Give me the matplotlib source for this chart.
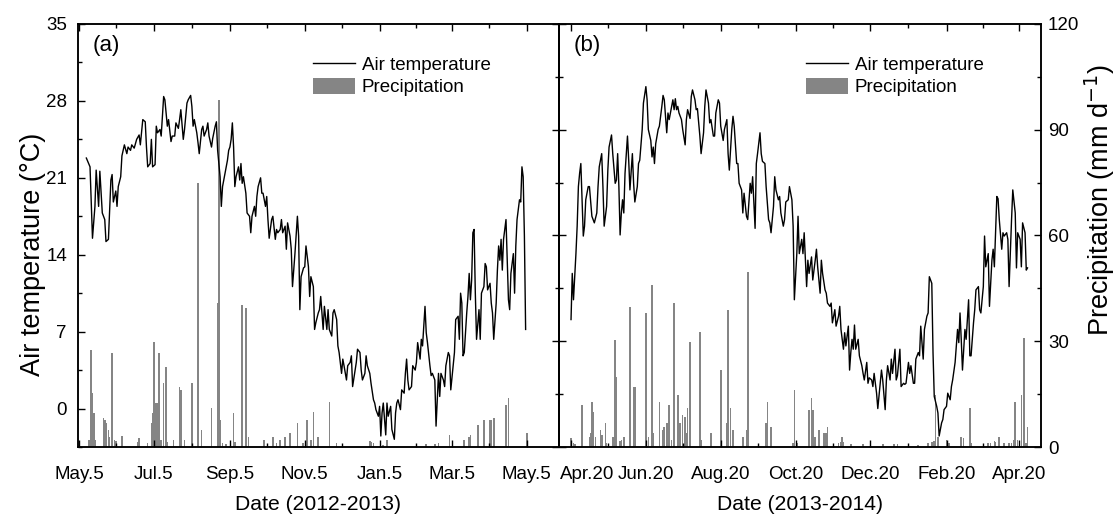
import numpy as np
import matplotlib.pyplot as plt
from matplotlib.lines import Line2D
from matplotlib.patches import Patch
from matplotlib.ticker import FixedLocator, MultipleLocator, NullFormatter
import matplotlib.transforms as mtransforms

plt.rcParams['font.family'] = ['Liberation Sans', 'DejaVu Sans']
plt.rcParams['font.size'] = 13.5

# ---- panel (a): 2012-2013, day 0 = 2012-05-05 ----
start_a = np.datetime64('2012-05-05')
temp_days_a = [6, 9, 11, 13, 14, 16, 17, 19, 21, 22, 24, 26, 27, 28, 30, 31, 32, 34, 35, 37,
               39, 40, 42, 43, 45, 47, 49, 50, 52, 54, 55, 56, 58, 59, 60, 62, 63, 64, 66, 67,
               69, 70, 72, 73, 75, 76, 78, 79, 81, 82, 83, 85, 86, 88, 89, 91, 92, 93, 94, 96,
               97, 98, 100, 101, 102, 104, 105, 106, 108, 109, 111, 112, 113, 115, 116, 117, 119, 121, 122, 123,
               124, 125, 126, 127, 128, 130, 131, 132, 133, 134, 136, 137, 139, 140, 141, 143, 144, 145, 146, 148,
               149, 150, 152, 153, 154, 155, 157, 158, 160, 161, 162, 164, 165, 166, 168, 169, 170, 172, 173, 174,
               176, 178, 179, 180, 181, 183, 184, 185, 187, 188, 189, 191, 192, 193, 195, 196, 197, 199, 200, 202,
               203, 204, 206, 207, 208, 210, 211, 212, 214, 215, 216, 218, 219, 221, 222, 223, 225, 226, 227, 229,
               230, 231, 233, 234, 235, 237, 238, 240, 241, 242, 244, 245, 246, 247, 248, 250, 251, 252, 254, 255,
               257, 258, 259, 260, 262, 263, 265, 266, 267, 268, 269, 271, 272, 274, 275, 276, 278, 279, 280, 282,
               283, 284, 286, 287, 288, 290, 291, 293, 294, 295, 297, 298, 299, 301, 302, 303, 305, 306, 307, 309,
               310, 311, 312, 313, 314, 316, 317, 318, 319, 320, 321, 322, 323, 324, 326, 327, 328, 330, 331, 332,
               333, 335, 336, 337, 338, 340, 341, 342, 343, 344, 345, 346, 348, 350, 351, 352, 354, 355, 356, 357,
               359, 360, 361, 362, 363, 364]
temp_a = [22.8, 22.0, 15.5, 18.4, 21.7, 18.4, 21.6, 17.8, 17.2, 15.2, 15.4, 20.8, 21.3, 18.8, 19.8, 18.4, 20.2, 21.1, 23.0, 24.0,
          23.2, 23.8, 23.5, 24.0, 23.7, 24.5, 24.9, 24.0, 26.3, 26.1, 23.8, 22.0, 22.3, 24.5, 22.0, 22.2, 25.7, 25.1, 25.4, 24.8,
          28.4, 28.1, 25.7, 26.3, 24.3, 24.8, 24.8, 26.0, 25.5, 26.3, 27.2, 24.5, 25.4, 27.8, 28.1, 28.5, 27.5, 25.7, 26.3, 25.1,
          24.2, 23.2, 25.4, 25.7, 24.8, 25.4, 26.0, 24.8, 23.8, 24.6, 25.7, 26.1, 23.5, 21.1, 18.4, 20.2, 21.4, 22.6, 23.5, 23.8,
          24.5, 26.0, 23.8, 20.2, 21.1, 22.0, 20.8, 22.3, 20.5, 21.1, 19.6, 17.8, 17.5, 16.0, 17.5, 18.4, 17.5, 19.3, 20.2, 21.0,
          19.6, 19.6, 18.4, 19.3, 17.2, 15.5, 17.2, 17.5, 15.4, 16.3, 16.0, 16.3, 17.2, 16.0, 16.6, 14.5, 16.9, 15.7, 14.5, 11.1,
          14.1, 17.5, 15.7, 9.0, 12.0, 12.8, 12.9, 14.8, 12.9, 10.2, 12.0, 11.1, 7.2, 7.8, 8.7, 9.0, 10.2, 7.2, 9.3, 7.2,
          9.0, 7.2, 6.6, 8.7, 9.0, 8.1, 5.7, 5.1, 3.2, 4.5, 3.9, 2.6, 3.9, 4.2, 4.8, 2.0, 3.5, 4.2, 5.4, 5.1,
          3.5, 2.6, 3.2, 4.8, 3.9, 3.2, 2.3, 0.8, 0.5, -0.1, -0.7, 0.2, -2.5, -0.4, 0.5, -2.4, 0.5, -0.7, 0.2, -1.9,
          -2.8, -0.4, 0.5, 0.8, -0.1, 1.7, 1.4, 3.2, 4.5, 2.6, 1.7, 2.0, 3.9, 3.5, 4.2, 6.0, 4.5, 6.3, 5.7, 9.3,
          6.9, 6.0, 3.9, 3.0, 3.2, 2.6, -1.6, 3.2, 1.1, 3.2, 2.6, 2.0, 3.9, 5.1, 4.8, 1.7, 3.9, 5.1, 8.1, 8.4,
          6.3, 10.5, 9.6, 4.8, 5.1, 8.7, 10.2, 12.3, 9.9, 11.7, 16.0, 16.3, 10.5, 6.3, 9.0, 6.3, 10.5, 11.1, 13.2, 12.9,
          10.8, 11.4, 9.6, 8.7, 6.3, 9.6, 12.6, 14.8, 13.5, 15.4, 12.6, 15.4, 17.2, 9.9, 9.0, 12.3, 14.1, 10.5, 14.8, 17.2,
          19.0, 18.8, 22.0, 21.1, 15.7, 7.2]
rain_days_a = [8, 10, 11, 12, 13, 20, 21, 22, 24, 25, 27, 29, 30, 35, 48, 49, 56, 59, 60, 61,
               63, 64, 65, 67, 69, 71, 72, 77, 82, 83, 86, 92, 97, 100, 108, 113, 114, 115, 117, 120,
               126, 127, 133, 136, 138, 151, 158, 161, 164, 168, 172, 178, 182, 183, 186, 189, 191, 195, 204, 210,
               237, 238, 240, 248, 251, 283, 290, 293, 302, 314, 318, 319, 325, 330, 335, 336, 338, 348, 350, 365]
rain_a = [2.0, 27.5, 15.2, 9.6, 2.0, 8.1, 7.7, 6.7, 4.8, 2.9, 26.6, 2.0, 1.8, 3.1, 1.5, 2.5, 1.0, 6.7, 9.6, 29.9,
          12.4, 12.4, 26.6, 2.0, 18.1, 22.8, 1.5, 2.0, 17.1, 16.2, 2.0, 18.1, 74.8, 4.8, 11.0, 40.8, 98.4, 7.7, 1.0, 0.8,
          9.6, 1.5, 40.3, 39.3, 2.9, 2.0, 2.9, 1.2, 2.0, 2.9, 3.9, 6.7, 1.0, 1.0, 7.7, 2.0, 10.0, 2.9, 12.9, 1.0,
          1.8, 1.5, 1.2, 0.6, 2.0, 0.8, 0.8, 1.0, 3.4, 2.0, 2.9, 3.4, 6.2, 7.7, 7.7, 7.7, 8.1, 11.9, 13.8, 3.9]
tick_dates_a = ['2012-05-05', '2012-07-05', '2012-09-05', '2012-11-05', '2013-01-05', '2013-03-05', '2013-05-05']
tick_labels_a = ['May.5', 'Jul.5', 'Sep.5', 'Nov.5', 'Jan.5', 'Mar.5', 'May.5']

# ---- panel (b): 2013-2014, day 0 = 2013-04-20 ----
start_b = np.datetime64('2013-04-20')
temp_days_b = [0, 1, 2, 4, 5, 6, 7, 8, 10, 11, 12, 14, 15, 17, 18, 19, 21, 22, 23, 25,
               26, 27, 29, 30, 31, 33, 34, 36, 37, 38, 39, 40, 41, 42, 43, 44, 46, 47, 48, 50,
               51, 52, 54, 55, 56, 58, 59, 61, 62, 63, 65, 66, 67, 68, 69, 71, 72, 74, 75, 76,
               78, 79, 80, 82, 83, 84, 85, 86, 87, 88, 90, 91, 93, 94, 95, 97, 98, 99, 101, 102,
               103, 105, 106, 108, 109, 110, 112, 113, 114, 116, 117, 118, 120, 121, 122, 124, 125, 127, 128, 129,
               131, 132, 133, 135, 136, 137, 139, 140, 141, 143, 144, 146, 147, 148, 150, 151, 152, 154, 155, 156,
               158, 159, 161, 162, 163, 165, 166, 167, 169, 170, 171, 173, 174, 175, 177, 178, 180, 181, 182, 184,
               185, 186, 188, 189, 190, 192, 193, 194, 196, 197, 199, 200, 201, 203, 204, 205, 207, 208, 209, 211,
               212, 213, 215, 216, 218, 219, 220, 222, 223, 224, 226, 227, 228, 229, 230, 231, 232, 234, 235, 237,
               238, 239, 241, 242, 243, 245, 246, 247, 249, 250, 252, 253, 254, 256, 257, 258, 260, 261, 262, 264,
               265, 266, 268, 269, 271, 272, 273, 275, 276, 277, 279, 280, 281, 283, 284, 285, 287, 288, 290, 291,
               292, 294, 295, 296, 298, 299, 300, 302, 303, 304, 306, 307, 309, 310, 311, 313, 314, 315, 316, 317,
               318, 319, 321, 322, 324, 325, 326, 328, 329, 330, 332, 333, 334, 336, 337, 338, 340, 341, 343, 344,
               345, 347, 348, 349, 351, 352, 353, 355, 356, 357, 359, 360, 362, 363, 364, 366, 367, 368, 370, 371,
               372]
temp_b = [8.1, 12.3, 9.9, 14.1, 16.6, 20.2, 21.4, 22.3, 15.7, 16.6, 19.0, 20.2, 20.2, 17.5, 17.2, 16.9, 17.8, 20.2, 22.0, 23.2,
          20.2, 16.6, 18.4, 21.7, 23.8, 24.9, 23.2, 20.5, 20.8, 23.2, 20.2, 15.8, 17.8, 19.0, 17.8, 21.4, 24.8, 22.6, 19.9, 23.2,
          20.5, 18.8, 20.2, 22.3, 22.6, 25.4, 27.8, 29.3, 28.1, 25.4, 24.4, 22.9, 23.8, 22.3, 24.1, 25.4, 25.7, 27.5, 28.5, 28.1,
          25.1, 26.9, 26.3, 27.5, 28.1, 27.2, 28.2, 27.2, 27.5, 26.9, 26.3, 25.4, 24.0, 26.3, 27.2, 26.4, 28.4, 29.0, 28.1, 27.2,
          27.3, 24.8, 23.2, 25.1, 27.5, 29.0, 27.8, 26.0, 26.3, 24.8, 24.8, 26.9, 28.1, 27.8, 25.7, 24.4, 25.4, 26.3, 23.2, 21.7,
          25.4, 26.6, 25.7, 22.3, 22.3, 20.5, 19.9, 17.8, 19.6, 17.5, 17.2, 20.5, 19.6, 21.1, 16.4, 22.3, 23.2, 25.1, 23.2, 22.5,
          22.3, 20.2, 17.2, 16.9, 16.0, 18.4, 21.1, 19.9, 19.0, 19.3, 17.8, 16.6, 17.2, 18.8, 19.0, 20.2, 19.0, 16.6, 9.9, 14.1,
          17.5, 14.1, 15.4, 14.1, 16.0, 11.1, 13.5, 12.3, 13.8, 11.7, 13.5, 14.5, 12.9, 10.5, 13.5, 12.3, 10.8, 10.5, 9.6, 9.3,
          9.6, 7.8, 9.0, 7.5, 8.4, 9.3, 7.2, 5.4, 6.9, 5.7, 7.5, 3.5, 5.1, 6.3, 5.4, 7.6, 5.4, 6.3, 4.8, 3.9,
          3.2, 2.6, 4.2, 2.3, 2.8, 2.6, 2.0, 3.2, 1.4, 0.0, 2.3, 3.5, 2.6, -0.1, 2.6, 3.9, 2.6, 4.5, 3.2, 5.4,
          2.6, 3.0, 5.4, 2.0, 2.3, 2.2, 2.3, 4.2, 3.2, 3.9, 2.3, 2.3, 4.5, 5.1, 4.8, 7.5, 4.5, 7.2, 8.4, 8.7,
          12.0, 11.4, 5.1, 1.1, 0.2, -0.4, -2.5, -1.3, -1.0, -0.1, 0.2, 1.4, 0.8, 2.0, 2.6, 4.2, 5.7, 7.2, 6.0, 8.7,
          6.3, 3.5, 7.2, 6.3, 9.9, 4.8, 4.8, 7.8, 9.0, 10.8, 11.1, 9.0, 8.7, 11.1, 15.7, 12.9, 14.1, 9.3, 13.5, 14.5,
          12.9, 19.3, 19.1, 17.2, 14.5, 16.0, 15.7, 16.0, 15.4, 11.1, 17.2, 19.9, 17.8, 12.8, 16.0, 15.4, 12.9, 16.9, 16.0, 12.6,
          12.8]
rain_days_b = [0, 2, 3, 9, 15, 16, 17, 18, 20, 24, 25, 28, 29, 34, 36, 37, 40, 41, 43, 48,
               51, 52, 61, 63, 66, 67, 72, 75, 76, 78, 80, 82, 84, 87, 89, 91, 93, 94, 95, 97,
               105, 106, 114, 122, 127, 128, 130, 132, 140, 143, 144, 159, 160, 163, 181, 182, 184, 194, 196, 197,
               199, 202, 206, 208, 209, 218, 220, 221, 222, 228, 238, 254, 263, 266, 283, 291, 294, 296, 297, 299,
               306, 308, 318, 320, 325, 326, 340, 342, 345, 346, 349, 353, 357, 359, 361, 362, 364, 367, 369, 371,
               372]
rain_b = [2.5, 1.0, 0.8, 11.9, 2.9, 3.9, 12.9, 10.0, 2.9, 4.8, 3.4, 6.7, 1.0, 2.9, 30.4, 20.0, 1.8, 2.0, 2.9, 39.8,
          17.1, 17.1, 37.9, 2.9, 46.0, 3.9, 12.9, 4.8, 5.8, 6.7, 11.9, 2.0, 40.8, 14.8, 6.7, 9.1, 8.6, 3.9, 11.0, 29.9,
          32.7, 2.0, 3.9, 21.8, 6.7, 38.9, 11.0, 4.8, 2.9, 4.8, 49.7, 6.7, 12.9, 5.8, 1.0, 16.2, 1.0, 10.5, 13.8, 10.5,
          2.9, 4.8, 3.9, 3.9, 5.8, 1.0, 1.5, 2.9, 1.5, 0.8, 0.8, 0.8, 0.8, 0.8, 0.6, 1.0, 1.5, 1.8, 14.8, 2.9,
          2.0, 1.0, 2.9, 2.5, 11.0, 1.0, 1.0, 1.0, 1.8, 1.5, 2.9, 1.0, 1.2, 1.0, 2.0, 12.9, 2.0, 14.8, 30.8, 1.0,
          5.8]
tick_dates_b = ['2013-04-20', '2013-06-20', '2013-08-20', '2013-10-20', '2013-12-20', '2014-02-20', '2014-04-20']
tick_labels_b = ['Apr.20', 'Jun.20', 'Aug.20', 'Oct.20', 'Dec.20', 'Feb.20', 'Apr.20']

bar_color = '#858585'

fig = plt.figure(figsize=(11.16, 5.17), dpi=100)
axA = fig.add_axes([78 / 1116, 70 / 517, 481 / 1116, 423 / 517])
axB = fig.add_axes([559 / 1116, 70 / 517, 482 / 1116, 423 / 517])


def day_offsets(start, dates):
    return [(np.datetime64(d) - start).astype(int) for d in dates]


def draw_panel(ax, start, tdays, temp, rdays, rain, tick_dates, tick_labels, xlim, tag, leg_x, xlabel):
    ax2 = ax.twinx()
    ax2.bar(rdays, rain, width=1.3, color=bar_color, linewidth=0)
    ax.plot(tdays, temp, color='black', linewidth=1.0)
    ax.set_zorder(ax2.get_zorder() + 1)
    ax.patch.set_visible(False)

    ax.set_xlim(*xlim)
    ax.set_ylim(-3.5, 35)
    ax2.set_ylim(0, 120)

    major = day_offsets(start, tick_dates)
    minor = [(a + b) / 2 for a, b in zip(major[:-1], major[1:])]
    ax.xaxis.set_major_locator(FixedLocator(major))
    ax.xaxis.set_minor_locator(FixedLocator(minor))
    ax.set_xticklabels(tick_labels)
    ax.tick_params(axis='x', which='both', direction='in', top=True, bottom=True, pad=13.5)
    ax.tick_params(axis='x', which='major', length=5, width=1)
    ax.tick_params(axis='x', which='minor', length=3, width=1)
    ax.set_xlabel(xlabel, fontsize=15.2, labelpad=9)

    ax2.yaxis.set_major_locator(MultipleLocator(30))
    ax2.yaxis.set_minor_locator(MultipleLocator(15))
    ax2.tick_params(axis='y', which='major', direction='in', length=5, width=1)
    ax2.tick_params(axis='y', which='minor', direction='in', length=3, width=1)

    for a in (ax, ax2):
        for s in a.spines.values():
            s.set_linewidth(1.1)

    ax.legend(handles=[Line2D([], [], color='black', linewidth=1.0),
                       Patch(facecolor=bar_color, edgecolor='none')],
              labels=['Air temperature', 'Precipitation'],
              loc='upper left', bbox_to_anchor=(leg_x, 0.924), frameon=False,
              borderpad=0, borderaxespad=0, handlelength=2.25, handleheight=0.9,
              handletextpad=0.35, labelspacing=0.2, fontsize=13.5)
    ax.text(0.031, 0.95, tag, transform=ax.transAxes, va='center', ha='left', fontsize=16)
    return ax2


axA2 = draw_panel(axA, start_a, temp_days_a, temp_a, rain_days_a, rain_a,
                  tick_dates_a, tick_labels_a, (-0.8, 391.2), '(a)', 0.489, 'Date (2012-2013)')
axB2 = draw_panel(axB, start_b, temp_days_b, temp_b, rain_days_b, rain_b,
                  tick_dates_b, tick_labels_b, (-9.8, 383.0), '(b)', 0.512, 'Date (2013-2014)')

# panel (a): temperature axis on the left, precipitation ticks (no labels) on the right
axA.yaxis.set_major_locator(MultipleLocator(7))
axA.yaxis.set_minor_locator(MultipleLocator(3.5))
axA.tick_params(axis='y', which='major', direction='in', length=5, width=1, pad=8)
axA.tick_params(axis='y', which='minor', direction='in', length=3, width=1)
axA2.yaxis.set_major_formatter(NullFormatter())

# panel (b): precipitation ticks on both sides, labels on the right
axB.tick_params(axis='y', which='both', left=False, right=False, labelleft=False, labelright=False)
axB2.tick_params(axis='y', which='both', left=True, right=True, labelleft=False, labelright=True, pad=5)

# axis titles
fig.text(33 / 1116, 1 - 254 / 517, 'Air temperature (°C)', rotation=90,
         ha='center', va='center', fontsize=19.5)
fig.text(1100 / 1116, 1 - 200 / 517, 'Precipitation (mm d$^{-1}$)', rotation=90,
         ha='center', va='center', fontsize=19.5)

# move the first label of panel (b) a little to the right, as in the original
first = axB.get_xticklabels()[0]
first.set_transform(first.get_transform() + mtransforms.ScaledTranslation(16 / 100, 0, fig.dpi_scale_trans))

fig.savefig('out.png', dpi=100)
